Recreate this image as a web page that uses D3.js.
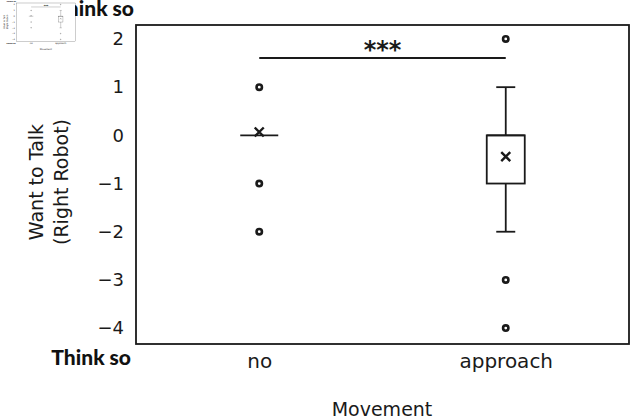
<!DOCTYPE html>
<html>
<head>
<script src="https://cdn.jsdelivr.net/npm/d3@7"></script>
<style>
    body { margin: 0; background: #fff; }
    svg { display: block; }
    .tick text { font-family: "DejaVu Sans", sans-serif; fill: #1a1a1a; }
</style>
</head>
<body>
<script>
    // data
    var categories = ["no", "approach"];
    var medians = [0, 0];
    var q1s = [0, -1];
    var q3s = [0, 0];
    var whiskLo = [0, -2];
    var whiskHi = [0, 1];
    var means = [0.07, -0.44];
    var outliers = [[1, -1, -2], [2, -3, -4]];
    var yTicks = [2, 1, 0, -1, -2, -3, -4];
    var sigLabel = "***";

    var W = 633, H = 420;
    var margin = {top: 25, right: 4, bottom: 76, left: 136};

    var svg = d3.select("body").append("svg")
        .attr("width", W)
        .attr("height", H);

    function drawChart(g) {
        var x = d3.scalePoint()
            .domain(categories)
            .range([margin.left, W - margin.right])
            .padding(0.5);
        var y = d3.scaleLinear()
            .domain([-4.33, 2.29])
            .range([H - margin.bottom, margin.top]);

        // y axis, labels only
        var ax = g.append("g")
            .attr("transform", "translate(" + margin.left + ",0)")
            .call(d3.axisLeft(y).tickValues(yTicks).tickSize(0).tickPadding(12)
                .tickFormat(function(d) { return d < 0 ? "\u2212" + Math.abs(d) : d; }));
        ax.select(".domain").remove();
        ax.selectAll("text").style("font-size", "18px");

        // x axis labels
        var bx = g.append("g")
            .attr("transform", "translate(0," + (H - margin.bottom) + ")")
            .call(d3.axisBottom(x).tickSize(0).tickPadding(10));
        bx.select(".domain").remove();
        bx.selectAll("text").style("font-size", "20px");

        // frame
        g.append("rect")
            .attr("x", margin.left)
            .attr("y", margin.top)
            .attr("width", W - margin.left - margin.right)
            .attr("height", H - margin.top - margin.bottom)
            .attr("fill", "none")
            .attr("stroke", "#1a1a1a")
            .attr("stroke-width", 1.8);

        var boxW = 38, capW = 19;
        categories.forEach(function(c, i) {
            var cx = x(c);
            var grp = g.append("g").attr("stroke", "#1a1a1a").attr("stroke-width", 1.8).attr("fill", "none");
            // whiskers
            if (whiskHi[i] > q3s[i]) {
                grp.append("line").attr("x1", cx).attr("x2", cx).attr("y1", y(q3s[i])).attr("y2", y(whiskHi[i]));
                grp.append("line").attr("x1", cx - capW / 2).attr("x2", cx + capW / 2).attr("y1", y(whiskHi[i])).attr("y2", y(whiskHi[i]));
            }
            if (whiskLo[i] < q1s[i]) {
                grp.append("line").attr("x1", cx).attr("x2", cx).attr("y1", y(q1s[i])).attr("y2", y(whiskLo[i]));
                grp.append("line").attr("x1", cx - capW / 2).attr("x2", cx + capW / 2).attr("y1", y(whiskLo[i])).attr("y2", y(whiskLo[i]));
            }
            // box
            if (q3s[i] > q1s[i]) {
                grp.append("rect")
                    .attr("x", cx - boxW / 2)
                    .attr("y", y(q3s[i]))
                    .attr("width", boxW)
                    .attr("height", y(q1s[i]) - y(q3s[i]))
                    .attr("fill", "#fff");
            }
            // median
            grp.append("line").attr("x1", cx - boxW / 2).attr("x2", cx + boxW / 2)
                .attr("y1", y(medians[i])).attr("y2", y(medians[i]));
            // mean marker x
            var my = y(means[i]), s = 4.5;
            grp.append("path")
                .attr("d", "M" + (cx - s) + "," + (my - s) + "L" + (cx + s) + "," + (my + s) +
                    "M" + (cx - s) + "," + (my + s) + "L" + (cx + s) + "," + (my - s))
                .attr("stroke-width", 2.4);
            // outliers
            grp.selectAll("circle.o")
                .data(outliers[i])
                .enter().append("circle")
                .attr("cx", cx)
                .attr("cy", function(d) { return y(d); })
                .attr("r", 2.7)
                .attr("stroke-width", 2.6);
        });

        // significance bar
        g.append("line")
            .attr("x1", x(categories[0])).attr("x2", x(categories[1]))
            .attr("y1", 58).attr("y2", 58)
            .attr("stroke", "#1a1a1a").attr("stroke-width", 1.8);
        g.append("text")
            .attr("x", (x(categories[0]) + x(categories[1])) / 2)
            .attr("y", 58)
            .attr("text-anchor", "middle")
            .style("font-family", "DejaVu Sans, sans-serif")
            .style("font-weight", "bold")
            .style("font-size", "24px")
            .attr("fill", "#1a1a1a")
            .text(sigLabel);

        // axis titles
        var yl = g.append("text")
            .attr("transform", "translate(47,182) rotate(-90)")
            .attr("text-anchor", "middle")
            .style("font-family", "DejaVu Sans, sans-serif")
            .style("font-size", "19px")
            .attr("fill", "#1a1a1a");
        yl.append("tspan").attr("x", 0).attr("dy", "-0.2em").text("Want to Talk");
        yl.append("tspan").attr("x", 0).attr("dy", "1.3em").text("(Right Robot)");

        g.append("text")
            .attr("x", 382)
            .attr("y", 416)
            .attr("text-anchor", "middle")
            .style("font-family", "DejaVu Sans, sans-serif")
            .style("font-size", "19px")
            .attr("fill", "#1a1a1a")
            .text("Movement");

        // stray "Think so" labels
        [[134, 16], [131, 365]].forEach(function(p) {
            g.append("text")
                .attr("x", p[0])
                .attr("y", p[1])
                .attr("text-anchor", "end")
                .style("font-family", "Lato, sans-serif")
                .style("font-weight", 900)
                .style("font-size", "21px")
                .attr("fill", "#111")
                .text("Think so");
        });
    }

    drawChart(svg.append("g"));

    // small copy of the whole figure in the corner
    var sc = 0.12;
    var thumb = svg.append("g");
    thumb.append("rect").attr("width", 75).attr("height", H * sc).attr("fill", "#fff");
    drawChart(thumb.append("g").attr("transform", "scale(" + sc + ")"));
</script>
</body>
</html>
